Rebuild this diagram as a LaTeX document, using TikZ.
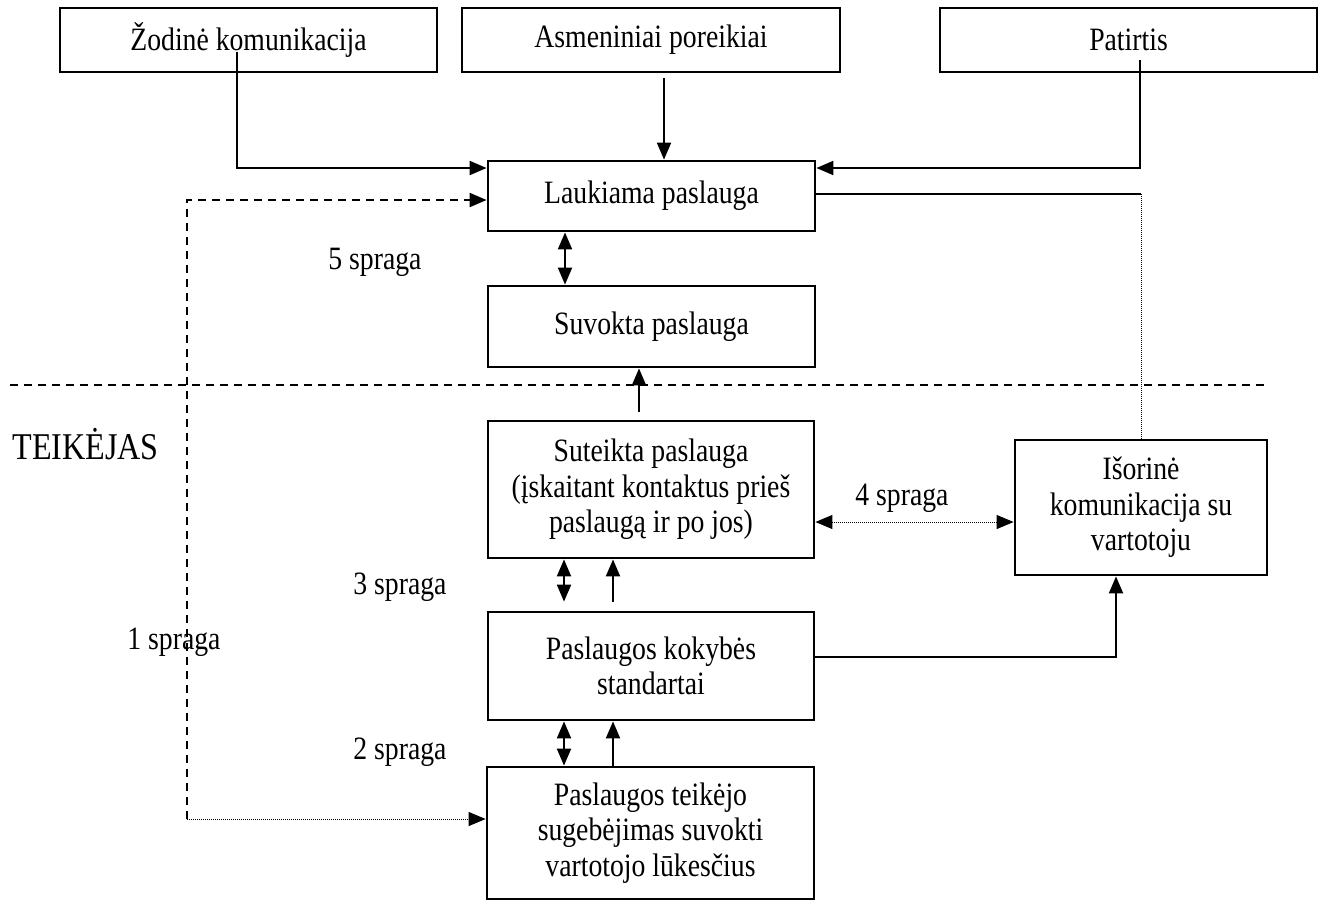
\documentclass[tikz,border=0pt]{standalone}
\usepackage{fontspec}
\setmainfont{Liberation Serif}[FakeStretch=0.85]
\usetikzlibrary{arrows.meta,calc}
\begin{document}
\begin{tikzpicture}[x=0.5pt,y=-0.5pt,
  txt/.style={font=\fontsize{16.3}{17.75}\selectfont},
  box/.style={txt,draw,line width=1.4pt,inner sep=0pt,align=center},
  tip/.tip={Triangle[length=8.5pt,width=7pt]},
  conn/.style={line width=1pt,-tip},
  biconn/.style={line width=1pt,tip-tip},
  plain/.style={line width=1pt},
  dashline/.style={line width=1pt,dash pattern=on 4pt off 3pt},
  dotline/.style={line width=0.5pt,dash pattern=on 0.5pt off 0.5pt}
]
\useasboundingbox (0,0) rectangle (1326,901);

% influences on the expected service
\node[box,minimum width=188.5pt,minimum height=32pt] (zod) at (248.5,40) {Žodinė komunikacija};
\node[box,minimum width=189pt,minimum height=32pt] (asm) at (651,40) {Asmeniniai poreikiai};
\node[box,minimum width=188.5pt,minimum height=32pt] (pat) at (1128.5,40) {Patirtis};

% main column
\node[box,minimum width=163.5pt,minimum height=35pt] (lauk) at (651.5,196) {Laukiama paslauga};
\node[box,minimum width=163.5pt,minimum height=40.5pt] (suv) at (651.5,326.5) {Suvokta paslauga};
\node[box,minimum width=163pt,minimum height=68.5pt] (sut) at (651,489.5) {Suteikta paslauga\\(įskaitant kontaktus prieš\\paslaugą ir po jos)};
\node[box,minimum width=163pt,minimum height=54pt] (std) at (651,666) {Paslaugos kokybės\\standartai};
\node[box,minimum width=163.5pt,minimum height=66pt] (tei) at (650.5,833) {Paslaugos teikėjo\\sugebėjimas suvokti\\vartotojo lūkesčius};
\node[box,minimum width=126pt,minimum height=67.5pt] (isor) at (1141,507.5) {Išorinė\\komunikacija su\\vartotoju};

% gap labels
\node[txt] (l5) at (375,262) {5 spraga};
\node[txt] (l4) at (902,498) {4 spraga};
\node[txt] (l3) at (400,587) {3 spraga};
\node[txt] (l2) at (400,752) {2 spraga};
\node[txt] (l1) at (174,642) {1 spraga};
\node[anchor=west,inner sep=0pt,font=\fontsize{18.9}{20}\selectfont] (teik) at (12,444) {TEIKĖJAS};

% helper points
\coordinate (zodout) at (237,52);
\coordinate (asmout) at (664,78);
\coordinate (patout) at (1140,60);
\coordinate (laukout) at (815,194);
\coordinate (c1top) at (187,200);
\coordinate (c1bot) at (187,819);
\coordinate (g5) at (565,0);
\coordinate (xs) at (639,0);
\coordinate (xa) at (564,0);
\coordinate (xb) at (613,0);
\coordinate (y4) at (0,522);
\coordinate (y6) at (0,657);
\coordinate (x6) at (1116,0);
\coordinate (dl) at (10,385);
\coordinate (dr) at (1265,385);

% customer / provider divider
\draw[dashline] (dl) -- (dr);

% arrows into the expected service
\draw[conn] (zodout) |- ($(lauk.west)+(0,-28)$);
\draw[conn] (asmout) -- (asmout |- lauk.north);
\draw[conn] (patout) |- ($(lauk.east)+(0,-28)$);

% expected service to external communication
\draw[plain] (laukout) -- (laukout -| isor.north) coordinate (turn);
\draw[dotline] (turn) -- (isor.north);

% gap 1
\draw[dashline,-tip] (c1bot) -- (c1top) -- (c1top -| lauk.west);
\draw[dotline,-tip] (c1bot) -- (c1bot -| tei.west);

% gap 5
\draw[biconn] (g5 |- lauk.south) -- (g5 |- suv.north);
\draw[conn,shorten <=4pt] (xs |- sut.north) -- (xs |- suv.south);

% gap 3
\draw[biconn,shorten <=4.5pt] (xa |- std.north) -- (xa |- sut.south);
\draw[conn,shorten <=4.5pt] (xb |- std.north) -- (xb |- sut.south);

% gap 2
\draw[biconn] (xa |- tei.north) -- (xa |- std.south);
\draw[conn] (xb |- tei.north) -- (xb |- std.south);

% gap 4
\draw[dotline,tip-tip] (sut.east |- y4) -- (isor.west |- y4);

% standards to external communication
\draw[conn] (std.east |- y6) -| (x6 |- isor.south);
\end{tikzpicture}
\end{document}
